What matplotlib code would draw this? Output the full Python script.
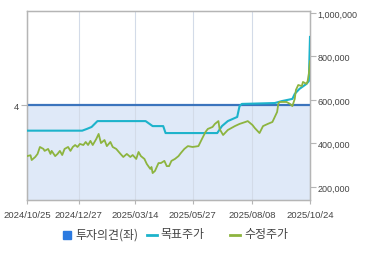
import numpy as np
import pandas as pd
import matplotlib
matplotlib.use("Agg")
import matplotlib.pyplot as plt
from matplotlib.patches import Rectangle
from matplotlib.lines import Line2D

# ---------------- data ----------------
# Korean market holidays in the period (trading-day calendar on x axis)
holidays = ["2024-12-25", "2024-12-31", "2025-01-01", "2025-01-27", "2025-01-28",
            "2025-01-29", "2025-01-30", "2025-03-03", "2025-05-01", "2025-05-05",
            "2025-05-06", "2025-06-03", "2025-06-06", "2025-08-15", "2025-10-03",
            "2025-10-06", "2025-10-07", "2025-10-08", "2025-10-09"]
start_date = "2024-10-25"
end_date = "2025-10-24"
tick_labels = ["2024/10/25", "2024/12/27", "2025/03/14", "2025/05/27", "2025/08/08", "2025/10/24"]

# investment opinion (left axis)
opinion_day = [0, 241]
opinion = [4, 4]

# target price (trading-day index, value)
target_day = [0, 47, 51, 55, 60, 101, 107, 116, 118, 162, 166, 171, 179, 181, 183,
              211, 217, 226, 228, 232, 238, 240, 241]
target_price = [459000, 459000, 467000, 476000, 503000, 503000, 480000, 480000, 448000,
                448000, 480000, 503000, 522000, 572000, 582000, 586000, 595000, 605000,
                628000, 651000, 674000, 687000, 890000]

# adjusted price
price_day = [0, 3, 4, 7, 9, 11, 14, 15, 18, 20, 21, 24, 26, 28, 30, 32, 35, 37, 39, 41,
             43, 45, 48, 50, 52, 54, 56, 59, 61, 63, 66, 68, 71, 73, 76, 79, 82, 85, 88,
             90, 93, 95, 97, 100, 102, 105, 106, 107, 109, 112, 114, 117, 119, 121, 123,
             126, 129, 131, 134, 137, 141, 146, 149, 152, 154, 158, 160, 163, 164, 167,
             171, 177, 181, 186, 188, 192, 194, 198, 201, 205, 209, 213, 214, 215, 221,
             224, 226, 228, 229, 231, 234, 235, 238, 239, 240, 241]
price = [342000, 346000, 324000, 338000, 352000, 384000, 375000, 366000, 375000, 352000,
         366000, 342000, 352000, 366000, 347000, 375000, 384000, 366000, 384000, 393000,
         384000, 398000, 393000, 407000, 393000, 412000, 393000, 421000, 444000, 402000,
         416000, 388000, 407000, 384000, 375000, 356000, 338000, 352000, 338000, 347000,
         329000, 361000, 342000, 329000, 306000, 283000, 292000, 264000, 274000, 310000,
         310000, 320000, 296000, 296000, 320000, 329000, 342000, 356000, 375000, 388000,
         384000, 388000, 421000, 453000, 467000, 476000, 490000, 503000, 467000, 439000,
         462000, 480000, 490000, 499000, 503000, 485000, 471000, 448000, 480000, 490000,
         499000, 545000, 582000, 591000, 591000, 582000, 572000, 605000, 646000, 669000,
         664000, 683000, 674000, 687000, 720000, 779000]

price_ticks = [200000, 400000, 600000, 800000, 1000000]

# ---------------- calendar ----------------
tdays = pd.bdate_range(start_date, end_date)
tdays = tdays[~tdays.isin(pd.to_datetime(holidays))]
tick_dates = pd.to_datetime([t.replace("/", "-") for t in tick_labels])
tick_pos = [int(np.searchsorted(tdays, d)) for d in tick_dates]

# ---------------- plot ----------------
plt.rcParams['font.family'] = ['Liberation Sans', 'DejaVu Sans']
W, H = 370, 255
fig = plt.figure(figsize=(W / 100, H / 100), dpi=100)
ax = fig.add_axes([27 / W, 1 - 201 / H, 283 / W, 189 / H])
ax2 = ax.twinx()

blue = '#3b74bd'
fillc = '#dfe9f8'
teal = '#1db3cb'
green = '#8db43f'
spine_c = '#b5b5b5'
txt_c = '#444444'

ax.fill_between(opinion_day, 0, opinion, color=fillc, lw=0, zorder=1)
ax.plot(opinion_day, opinion, color=blue, lw=1.6, zorder=3, solid_capstyle='butt')
ax.set_ylim(0, 7.96)
ax.set_xlim(0, len(tdays) - 1)
ax.set_yticks([4])
ax.set_yticklabels(['4'])
ax.set_xticks(tick_pos)
ax.set_xticklabels(tick_labels)
ax.grid(axis='x', color='#d3dbe8', lw=0.8)
ax.set_axisbelow('line')

ax2.plot(target_day, target_price, color=teal, lw=1.5, zorder=3)
ax2.plot(price_day, price, color=green, lw=1.3, zorder=4)
ax2.set_ylim(140200, 1009200)
ax2.set_yticks(price_ticks)
ax2.set_yticklabels([f"{v:,}" for v in price_ticks])

for a in (ax, ax2):
    for s in a.spines.values():
        s.set_color(spine_c)
        s.set_linewidth(0.9)

ax.tick_params(axis='x', length=3, width=0.8, color=spine_c, pad=4, labelsize=6.8, labelcolor=txt_c)
ax.tick_params(axis='y', length=4, width=0.8, color=spine_c, pad=2, labelsize=6.8, labelcolor=txt_c)
ax2.tick_params(axis='y', length=4, width=0.8, color=spine_c, pad=1.5, labelsize=6.5, labelcolor=txt_c)

# ---------------- legend ----------------
kr = ['Noto Sans CJK KR', 'DejaVu Sans']
ly = 1 - 235 / H
fig.patches.append(Rectangle((62.5 / W, 1 - 239.5 / H), 8 / W, 8 / H,
                             transform=fig.transFigure, color='#2b7ae0', figure=fig))
fig.text(75 / W, ly, '투자의견(좌)', family=kr, fontsize=8.6, color=txt_c, va='center', ha='left')
fig.lines.append(Line2D([147 / W, 157 / W], [1 - 236 / H, 1 - 236 / H], color=teal, lw=2,
                        transform=fig.transFigure, figure=fig))
fig.text(160 / W, ly, '목표주가', family=kr, fontsize=8.6, color=txt_c, va='center', ha='left')
fig.lines.append(Line2D([230 / W, 240 / W], [1 - 236 / H, 1 - 236 / H], color=green, lw=2,
                        transform=fig.transFigure, figure=fig))
fig.text(244 / W, ly, '수정주가', family=kr, fontsize=8.6, color=txt_c, va='center', ha='left')

fig.savefig('out.png', dpi=100)
